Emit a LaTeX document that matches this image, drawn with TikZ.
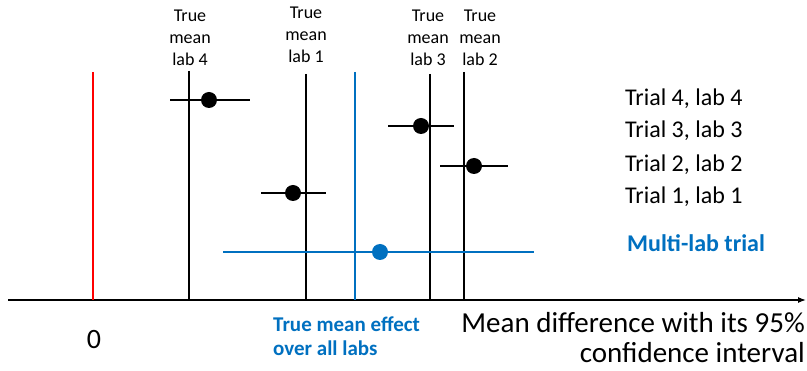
\documentclass[tikz,border=0pt]{standalone}
\usepackage{fontspec}
\setmainfont{Carlito}
\usetikzlibrary{arrows.meta}
\definecolor{labblue}{RGB}{0,112,192}
\begin{document}
\begin{tikzpicture}[x=1pt,y=-1pt,
  meanline/.style={line width=1.5pt},
  ciline/.style={line width=2.4pt},
  dot/.style={circle,fill,inner sep=0pt,minimum size=16pt},
  toplbl/.style={align=center,font=\fontsize{18}{22}\selectfont},
  triallbl/.style={anchor=west,inner sep=0pt,font=\fontsize{24}{28}\selectfont}]
  \useasboundingbox (0,0) rectangle (807,371);
  \coordinate (axl) at (8,300);
  \coordinate (axr) at (806,300);
  \draw[-{Latex[length=8pt,width=6pt]},line width=1.2pt] (axl) -- (axr);

  \node[toplbl] (lab4) at (190,38) {True\\mean\\lab 4};
  \node[toplbl] (lab1) at (306,35) {True\\mean\\lab 1};
  \node[toplbl] (lab3) at (428,38) {True\\mean\\lab 3};
  \node[toplbl] (lab2) at (480,38) {True\\mean\\lab 2};

  \coordinate (zero) at (93,72);
  \coordinate (m4) at (189,71);
  \coordinate (m1) at (306,74);
  \coordinate (mall) at (355,72);
  \coordinate (m3) at (430,74);
  \coordinate (m2) at (464,72);
  \draw[meanline,red] (zero) -- (zero |- axl);
  \draw[meanline] (m4) -- (m4 |- axl);
  \draw[meanline] (m1) -- (m1 |- axl);
  \draw[meanline,labblue,line width=2pt] (mall) -- (mall |- axl);
  \draw[meanline] (m3) -- (m3 |- axl);
  \draw[meanline] (m2) -- (m2 |- axl);

  \coordinate (t4a) at (170,100); \coordinate (t4b) at (250,100);
  \coordinate (t3a) at (388,126); \coordinate (t3b) at (454,126);
  \coordinate (t2a) at (440,166); \coordinate (t2b) at (508,166);
  \coordinate (t1a) at (261,193); \coordinate (t1b) at (326,193);
  \coordinate (mla) at (223,252); \coordinate (mlb) at (534,252);
  \draw[ciline] (t4a) -- (t4b);
  \draw[ciline] (t3a) -- (t3b);
  \draw[ciline] (t2a) -- (t2b);
  \draw[ciline] (t1a) -- (t1b);
  \draw[ciline,labblue] (mla) -- (mlb);
  \node[dot] (t4) at (209,100) {};
  \node[dot] (t3) at (421,126) {};
  \node[dot] (t2) at (474,166) {};
  \node[dot] (t1) at (293,193) {};
  \node[dot,labblue] (ml) at (380,252) {};

  \node[triallbl] (r4) at (625,99) {Trial 4, lab 4};
  \node[triallbl] (r3) at (625,131) {Trial 3, lab 3};
  \node[triallbl] (r2) at (625,165) {Trial 2, lab 2};
  \node[triallbl] (r1) at (625,197) {Trial 1, lab 1};
  \node[triallbl,labblue,font=\fontsize{24}{28}\selectfont\bfseries] (rml) at (627,243) {Multi-lab trial};

  \node[font=\fontsize{28}{32}\selectfont] (nought) at (94,340) {0};
  \node[anchor=west,inner sep=0pt,align=left,text=labblue,font=\fontsize{21}{24}\selectfont\bfseries] (allmean) at (273,336) {True mean effect\\over all labs};
  \node[anchor=east,inner sep=0pt,align=right,font=\fontsize{29}{30}\selectfont] (xlbl) at (805,338) {Mean difference with its 95\%\\confidence interval};
\end{tikzpicture}
\end{document}
